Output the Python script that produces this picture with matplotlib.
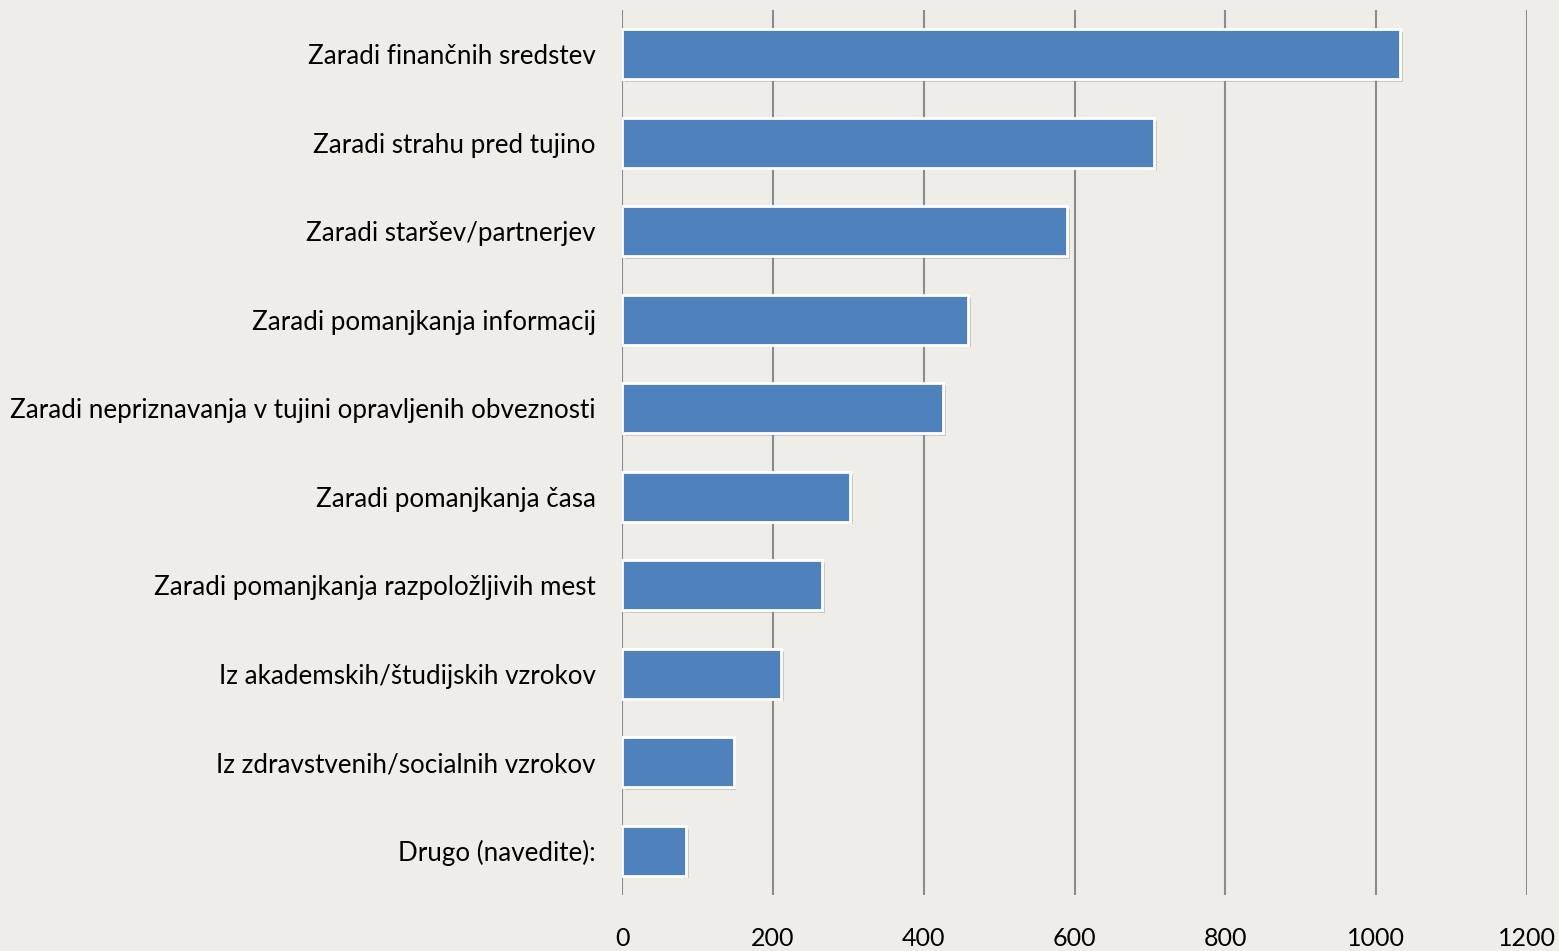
import matplotlib.pyplot as plt
import matplotlib.patheffects as pe

categories = [
    'Zaradi finančnih sredstev',
    'Zaradi strahu pred tujino',
    'Zaradi staršev/partnerjev',
    'Zaradi pomanjkanja informacij',
    'Zaradi nepriznavanja v tujini opravljenih obveznosti',
    'Zaradi pomanjkanja časa',
    'Zaradi pomanjkanja razpoložljivih mest',
    'Iz akademskih/študijskih vzrokov',
    'Iz zdravstvenih/socialnih vzrokov',
    'Drugo (navedite):',
]
values = [1032, 705, 590, 459, 426, 302, 265, 211, 148, 85]
xticks = [0, 200, 400, 600, 800, 1000, 1200]

bg = '#EEEDE8'
plt.rcParams['font.family'] = ['Lato', 'DejaVu Sans']

fig = plt.figure(figsize=(15.59, 9.51), dpi=100, facecolor=bg)
ax = fig.add_axes([0.399, 0.0589, 0.5806, 0.9306])
ax.set_facecolor(bg)

pos = list(range(len(categories)))
bars = ax.barh(pos, values, height=0.56, color='#4F81BD', edgecolor='white',
               linewidth=2, zorder=3)
for b in bars:
    b.set_path_effects([pe.SimplePatchShadow(offset=(2, -2), shadow_rgbFace='#888888', alpha=0.35),
                        pe.Normal()])

ax.set_xlim(0, 1200)
ax.set_ylim(9.5, -0.5)
ax.set_yticks(pos)
ax.set_yticklabels(categories, fontsize=18.7)
ax.set_xticks(xticks)
ax.set_xticklabels([str(t) for t in xticks], fontsize=18)
ax.tick_params(axis='y', length=0, pad=19)
ax.tick_params(axis='x', length=0, pad=23)
ax.xaxis.grid(True, color='#8C8C8C', linewidth=1.5, zorder=0)
for s in ax.spines.values():
    s.set_visible(False)

fig.savefig('out.png', dpi=100, facecolor=bg)
